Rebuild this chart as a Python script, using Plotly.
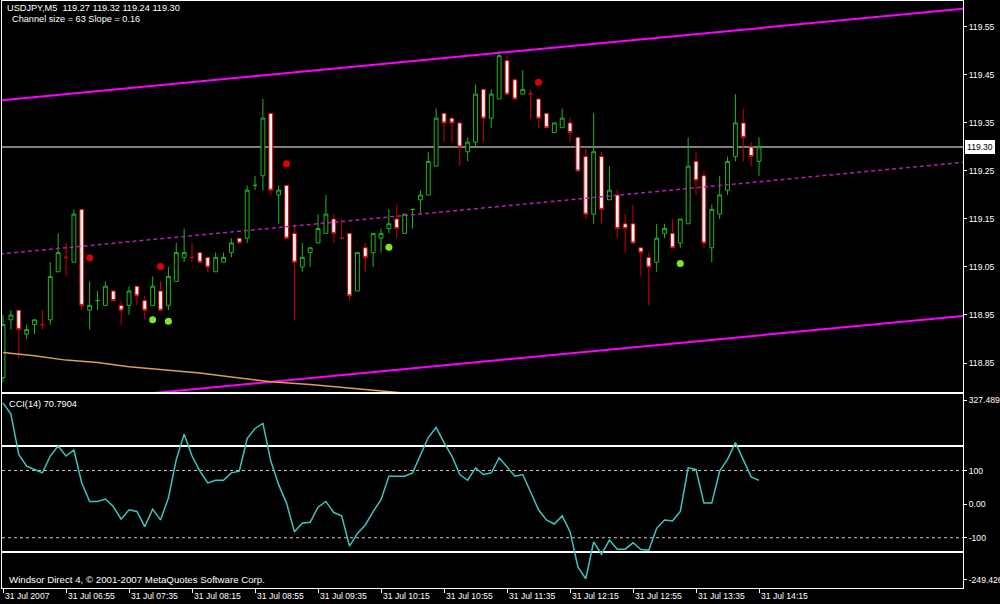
import plotly.graph_objects as go

# ---------------- data ----------------
bar_index = list(range(97))
opens = [118.82, 118.94, 118.96, 118.91, 118.93, 118.93, 118.94, 119.04, 119.07, 119.06,
         119.17, 118.96, 118.98, 118.97, 119.00, 118.97, 118.97, 119.01, 118.98, 118.97,
         119.00, 118.97, 119.02, 119.07, 119.07, 119.08, 119.07, 119.04, 119.06, 119.08,
         119.11, 119.11, 119.22, 119.24, 119.37, 119.20, 119.22, 119.12, 119.05, 119.08,
         119.10, 119.12, 119.15, 119.11, 119.12, 119.00, 119.09, 119.08, 119.11, 119.13,
         119.15, 119.12, 119.17, 119.19, 119.20, 119.26, 119.37, 119.36, 119.35, 119.29,
         119.31, 119.42, 119.36, 119.40, 119.48, 119.44, 119.41, 119.41, 119.40, 119.37,
         119.33, 119.34, 119.35, 119.32, 119.28, 119.16, 119.28, 119.19, 119.20, 119.14,
         119.14, 119.09, 119.07, 119.06, 119.12, 119.12, 119.10, 119.14, 119.27, 119.24,
         119.09, 119.16, 119.21, 119.28, 119.35, 119.30, 119.27]
highs = [118.95, 118.96, 118.96, 118.93, 118.94, 118.96, 119.06, 119.12, 119.10, 119.17,
         119.17, 119.02, 119.00, 119.02, 119.00, 118.98, 119.01, 119.01, 118.99, 119.03,
         119.02, 119.05, 119.10, 119.13, 119.10, 119.08, 119.07, 119.08, 119.08, 119.11,
         119.11, 119.22, 119.24, 119.40, 119.37, 119.22, 119.22, 119.14, 119.10, 119.09,
         119.16, 119.20, 119.16, 119.15, 119.12, 119.08, 119.10, 119.12, 119.13, 119.17,
         119.18, 119.16, 119.17, 119.21, 119.29, 119.38, 119.37, 119.36, 119.35, 119.32,
         119.43, 119.42, 119.42, 119.50, 119.49, 119.44, 119.46, 119.42, 119.40, 119.37,
         119.35, 119.38, 119.36, 119.32, 119.30, 119.37, 119.29, 119.26, 119.21, 119.16,
         119.18, 119.09, 119.08, 119.14, 119.14, 119.15, 119.15, 119.32, 119.29, 119.25,
         119.18, 119.24, 119.28, 119.41, 119.38, 119.31, 119.32]
lows = [118.81, 118.92, 118.86, 118.90, 118.91, 118.92, 118.93, 119.04, 119.03, 119.06,
        118.96, 118.92, 118.96, 118.97, 118.98, 118.93, 118.95, 118.97, 118.94, 118.97,
        118.96, 118.96, 119.02, 119.06, 119.06, 119.06, 119.04, 119.04, 119.06, 119.07,
        119.10, 119.10, 119.21, 119.21, 119.20, 119.14, 119.11, 118.94, 119.04, 119.05,
        119.10, 119.12, 119.10, 119.11, 118.98, 119.00, 119.04, 119.05, 119.08, 119.12,
        119.11, 119.12, 119.13, 119.16, 119.20, 119.26, 119.31, 119.31, 119.26, 119.27,
        119.30, 119.31, 119.34, 119.40, 119.41, 119.40, 119.41, 119.36, 119.34, 119.34,
        119.33, 119.34, 119.31, 119.25, 119.15, 119.14, 119.14, 119.19, 119.11, 119.08,
        119.10, 119.03, 118.97, 119.04, 119.11, 119.09, 119.09, 119.14, 119.20, 119.09,
        119.06, 119.15, 119.20, 119.27, 119.27, 119.26, 119.24]
closes = [118.93, 118.95, 118.92, 118.92, 118.94, 118.93, 119.03, 119.08, 119.07, 119.16,
          118.97, 118.97, 118.98, 119.01, 118.98, 118.96, 119.00, 118.99, 118.96, 119.01,
          118.96, 119.03, 119.08, 119.08, 119.07, 119.06, 119.05, 119.07, 119.07, 119.10,
          119.10, 119.21, 119.22, 119.36, 119.21, 119.21, 119.11, 119.06, 119.07, 119.09,
          119.13, 119.16, 119.12, 119.11, 118.99, 119.08, 119.07, 119.12, 119.12, 119.14,
          119.13, 119.16, 119.17, 119.20, 119.27, 119.36, 119.35, 119.35, 119.30, 119.31,
          119.41, 119.36, 119.41, 119.49, 119.41, 119.40, 119.42, 119.41, 119.36, 119.34,
          119.35, 119.36, 119.33, 119.25, 119.16, 119.29, 119.17, 119.21, 119.13, 119.13,
          119.10, 119.08, 119.05, 119.11, 119.13, 119.09, 119.15, 119.26, 119.23, 119.10,
          119.17, 119.20, 119.27, 119.35, 119.32, 119.28, 119.30]

cci = [301, 268, 148, 113, 103, 93, 143, 173, 143, 161,
       63, 8, 8, 15, -7, -45, -17, -22, -67, -15,
       -47, 18, 133, 208, 143, 98, 63, 71, 71, 93,
       98, 195, 225, 240, 128, 58, 3, -82, -57, -54,
       -9, 8, -25, -35, -125, -87, -62, -22, 13, 83,
       83, 83, 93, 143, 198, 228, 183, 143, 88, 71,
       108, 88, 93, 138, 111, 83, 88, 38, -17, -47,
       -59, -35, -82, -187, -222, -112, -149, -107, -134, -134,
       -115, -135, -137, -72, -47, -50, -22, 108, 103, 3,
       3, 98, 133, 183, 133, 81, 70.79]

ma_bars = [0, 4, 8, 12, 16, 21, 25, 29, 34, 39, 44, 49, 54]
ma_values = [118.872, 118.865, 118.856, 118.851, 118.842, 118.835, 118.829,
             118.821, 118.811, 118.805, 118.798, 118.790, 118.783]

channel_bars = [-0.38, 121.9]
channel_mid = [119.077, 119.268]
channel_half = 0.32

red_dot_bars = [11, 20, 36, 68]
red_dot_prices = [119.069, 119.051, 119.265, 119.435]
green_dot_bars = [19, 21, 49, 86]
green_dot_prices = [118.940, 118.937, 119.091, 119.057]

last_price = 119.30
price_ticks = [118.85, 118.95, 119.05, 119.15, 119.25, 119.35, 119.45, 119.55]
price_range = [118.7896, 119.604]

cci_range = [-249.426, 327.4891]
cci_tick_vals = [309.6, 100, 0, -100, -225.6]
cci_tick_text = ["327.4891", "100", "0.00", "-100", "-249.426"]
cci_dashed = [100, -100]
cci_solid = [173, -142]

x_tick_bars = [0, 8, 16, 24, 32, 40, 48, 56, 64, 72, 80, 88, 96]
x_tick_labels = ["31 Jul 2007", "31 Jul 06:55", "31 Jul 07:35", "31 Jul 08:15",
                 "31 Jul 08:55", "31 Jul 09:35", "31 Jul 10:15", "31 Jul 10:55",
                 "31 Jul 11:35", "31 Jul 12:15", "31 Jul 12:55", "31 Jul 13:35",
                 "31 Jul 14:15"]
x_range = [-0.13, 121.9]

FONT = "Liberation Sans, Arial, sans-serif"
GREEN = "#1FB51F"
RED = "#D00000"

fig = go.Figure()

# channel
upper = [m + channel_half for m in channel_mid]
lower = [m - channel_half for m in channel_mid]
fig.add_trace(go.Scatter(x=channel_bars, y=upper, mode="lines",
                         line=dict(color="#FF00FF", width=2), xaxis="x2", yaxis="y"))
fig.add_trace(go.Scatter(x=channel_bars, y=lower, mode="lines",
                         line=dict(color="#FF00FF", width=2), xaxis="x2", yaxis="y"))
fig.add_trace(go.Scatter(x=channel_bars, y=channel_mid, mode="lines",
                         line=dict(color="#B020B0", width=1.5, dash="4px,3px"),
                         xaxis="x2", yaxis="y"))
# moving average
fig.add_trace(go.Scatter(x=ma_bars, y=ma_values, mode="lines",
                         line=dict(color="#D8A050", width=1.5), xaxis="x2", yaxis="y"))

# candles
fig.add_trace(go.Candlestick(
    x=bar_index, open=opens, high=highs, low=lows, close=closes,
    increasing=dict(line=dict(color=GREEN, width=1), fillcolor="black"),
    decreasing=dict(line=dict(color=RED, width=1), fillcolor="#FFF4F4"),
    whiskerwidth=0, xaxis="x2", yaxis="y"))

# dots
fig.add_trace(go.Scatter(x=red_dot_bars, y=red_dot_prices, mode="markers",
                         marker=dict(color="#E00000", size=7, line=dict(width=0)),
                         xaxis="x2", yaxis="y"))
fig.add_trace(go.Scatter(x=green_dot_bars, y=green_dot_prices, mode="markers",
                         marker=dict(color="#80E820", size=7, line=dict(width=0)),
                         xaxis="x2", yaxis="y"))

# CCI
fig.add_trace(go.Scatter(x=bar_index, y=cci, mode="lines",
                         line=dict(color="#3EC4BE", width=1.5), xaxis="x", yaxis="y2"))

shapes = []
shapes.append(dict(type="line", xref="x2 domain", yref="y", x0=0, x1=1,
                   y0=last_price, y1=last_price, line=dict(color="#A8A8A8", width=1.5),
                   layer="below"))
for v in cci_dashed:
    shapes.append(dict(type="line", xref="x domain", yref="y2", x0=0, x1=1, y0=v, y1=v,
                       line=dict(color="#C8C8C8", width=1, dash="3px,3px"), layer="below"))
for v in cci_solid:
    shapes.append(dict(type="line", xref="x domain", yref="y2", x0=0, x1=1, y0=v, y1=v,
                       line=dict(color="white", width=2), layer="below"))

annotations = []
for b, t in zip(x_tick_bars, x_tick_labels):
    annotations.append(dict(x=b, xref="x", y=-0.0136, yref="paper", text=t,
                             showarrow=False, xanchor="left", yanchor="middle", xshift=0,
                             font=dict(color="white", size=8.6, family=FONT)))
annotations.append(dict(x=0.0031, xref="paper", y=0.988, yref="paper",
                        text="USDJPY,M5\u00a0\u00a0119.27 119.32 119.24 119.30",
                        showarrow=False, xanchor="left", yanchor="middle",
                        font=dict(color="white", size=9.2, family=FONT)))
annotations.append(dict(x=0.0083, xref="paper", y=0.9693, yref="paper",
                        text="Channel size = 63 Slope = 0.16",
                        showarrow=False, xanchor="left", yanchor="middle",
                        font=dict(color="white", size=9.2, family=FONT)))
annotations.append(dict(x=0.005, xref="paper", y=0.3135, yref="paper",
                        text="CCI(14) 70.7904",
                        showarrow=False, xanchor="left", yanchor="middle",
                        font=dict(color="white", size=9.2, family=FONT)))
annotations.append(dict(x=0.005, xref="paper", y=0.0153, yref="paper",
                        text="Windsor Direct 4, \u00a9 2001-2007 MetaQuotes Software Corp.",
                        showarrow=False, xanchor="left", yanchor="middle",
                        font=dict(color="white", size=9.7, family=FONT)))
annotations.append(dict(x=1, xref="paper", y=last_price, yref="y", text="119.30",
                        showarrow=False, xanchor="left", yanchor="middle", xshift=2,
                        bgcolor="white", bordercolor="white", borderpad=1,
                        font=dict(color="black", size=8.6, family=FONT)))

axis_common = dict(showgrid=False, zeroline=False, showline=True, mirror=True,
                   linecolor="white", linewidth=1, automargin=False)

fig.update_layout(
    width=1000, height=604,
    margin=dict(l=2, r=37, t=1, b=16),
    paper_bgcolor="black", plot_bgcolor="black",
    showlegend=False, boxgap=0.3,
    xaxis=dict(domain=[0, 1], anchor="y2", range=x_range, tickmode="array",
               tickvals=x_tick_bars, ticktext=[""] * len(x_tick_bars),
               ticks="outside", ticklen=4, tickcolor="white", rangeslider=dict(visible=False),
               **axis_common),
    xaxis2=dict(domain=[0, 1], anchor="y", range=x_range, matches="x",
                showticklabels=False, rangeslider=dict(visible=False), **axis_common),
    yaxis=dict(domain=[0.3339, 1], anchor="x2", side="right", range=price_range,
               tickmode="array", tickvals=price_ticks,
               ticktext=[f"{v:.2f}" for v in price_ticks],
               ticks="outside", ticklen=3, tickcolor="white",
               tickfont=dict(color="white", size=8.6, family=FONT), **axis_common),
    yaxis2=dict(domain=[0, 0.3305], anchor="x", side="right", range=cci_range,
                tickmode="array", tickvals=cci_tick_vals, ticktext=cci_tick_text,
                ticks="outside", ticklen=3, tickcolor="white",
                tickfont=dict(color="white", size=8.6, family=FONT), **axis_common),
    shapes=shapes, annotations=annotations,
)

fig.write_html(
    "out.html",
    config={"displayModeBar": False},
    post_script="document.body.style.margin='0';document.body.style.overflow='hidden';"
                "document.body.style.background='black';",
)
